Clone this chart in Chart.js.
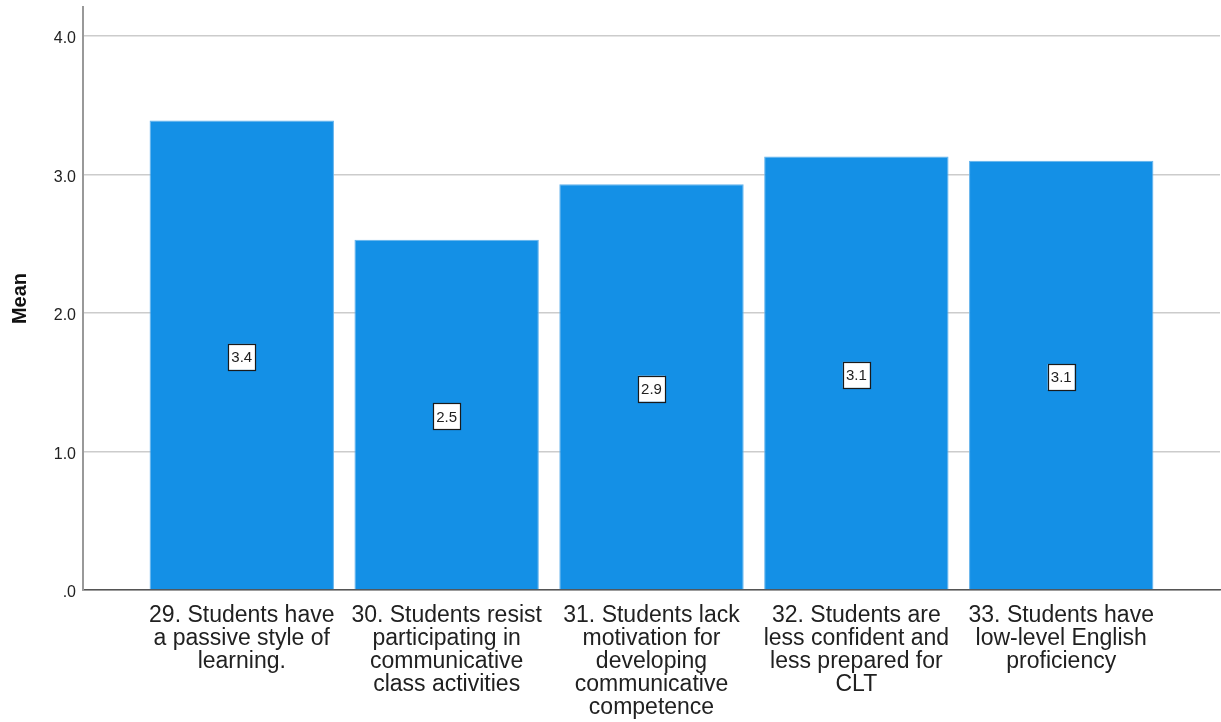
<!DOCTYPE html>
<html>
<head>
<meta charset="utf-8">
<title>Mean by item</title>
<script src="https://cdn.jsdelivr.net/npm/chart.js@4/dist/chart.umd.min.js"></script>
<style>
  html, body { margin: 0; padding: 0; background: #ffffff; }
  #wrap { width: 1221px; height: 722px; position: relative; }
</style>
</head>
<body>
<div id="wrap"><canvas id="chart" width="1221" height="722"></canvas></div>
<script>
// Item labels, one entry per bar, already broken into lines
const categories = [
  ["29. Students have", "a passive style of", "learning."],
  ["30. Students resist", "participating in", "communicative", "class activities"],
  ["31. Students lack", "motivation for", "developing", "communicative", "competence"],
  ["32. Students are", "less confident and", "less prepared for", "CLT"],
  ["33. Students have", "low-level English", "proficiency"]
];

// Mean score for each item
const means = [3.39, 2.53, 2.93, 3.13, 3.10];

// Y axis tick values
const yTicks = [0, 1, 2, 3, 4];

const FONT = "'Liberation Sans', Arial, Helvetica, sans-serif";
const TEXT = '#212121';

// Boxed value label placed in the middle of each bar
const valueBoxes = {
  id: 'valueBoxes',
  afterDatasetsDraw(chart) {
    const ctx = chart.ctx;
    const meta = chart.getDatasetMeta(0);
    ctx.save();
    ctx.font = '15px ' + FONT;
    ctx.textAlign = 'center';
    ctx.textBaseline = 'middle';
    meta.data.forEach((bar, i) => {
      const label = means[i].toFixed(1);
      const cx = bar.x;
      const cy = (bar.y + bar.base) / 2 + 2;
      const w = 27, h = 26;
      ctx.fillStyle = '#ffffff';
      ctx.fillRect(cx - w / 2, cy - h / 2, w, h);
      ctx.strokeStyle = '#1a1a1a';
      ctx.lineWidth = 1.2;
      ctx.strokeRect(Math.round(cx - w / 2) + 0.5, Math.round(cy - h / 2) + 0.5, w, h);
      ctx.fillStyle = TEXT;
      ctx.fillText(label, cx, cy + 1);
    });
    ctx.restore();
  }
};

new Chart(document.getElementById('chart'), {
  type: 'bar',
  data: {
    datasets: [{
      data: means.map((v, i) => ({ x: i, y: v })),
      backgroundColor: '#1490e6',
      borderColor: '#62b2ec',
      borderWidth: 1,
      barPercentage: 0.9,
      categoryPercentage: 1.0
    }]
  },
  options: {
    responsive: false,
    animation: false,
    layout: { padding: { top: 7, right: 1, left: 0, bottom: 0 } },
    plugins: {
      legend: { display: false },
      tooltip: { enabled: false }
    },
    scales: {
      x: {
        type: 'linear',
        offset: false,
        min: -0.775,
        max: 4.775,
        afterBuildTicks(axis) {
          axis.ticks = categories.map((_, i) => ({ value: i }));
        },
        afterFit(axis) {
          axis.height = 132;
          axis.paddingLeft = 0;
          axis.paddingRight = 0;
        },
        grid: { display: false, drawTicks: false },
        border: { display: true, color: '#555555', width: 1.5 },
        ticks: {
          autoSkip: false,
          maxRotation: 0,
          minRotation: 0,
          padding: 14,
          color: TEXT,
          font: { family: FONT, size: 23, lineHeight: 1.0 },
          callback: (v) => categories[v]
        }
      },
      y: {
        type: 'linear',
        min: 0,
        max: 4.21,
        afterBuildTicks(axis) {
          axis.ticks = yTicks.map(v => ({ value: v }));
        },
        afterFit(axis) {
          axis.width = 83;
          axis.paddingTop = 0;
          axis.paddingBottom = 0;
        },
        grid: { color: '#cccccc', lineWidth: 1.5, drawTicks: false },
        border: { display: true, color: '#999999', width: 2 },
        ticks: {
          padding: 7,
          labelOffset: 3,
          color: TEXT,
          font: { family: FONT, size: 16 },
          callback: (v) => (v === 0 ? '.0' : v.toFixed(1))
        },
        title: {
          display: true,
          text: 'Mean',
          color: '#111111',
          font: { family: FONT, size: 20, weight: 'bold' },
          padding: { top: 8, bottom: 0 }
        }
      }
    }
  },
  plugins: [valueBoxes]
});
</script>
</body>
</html>
